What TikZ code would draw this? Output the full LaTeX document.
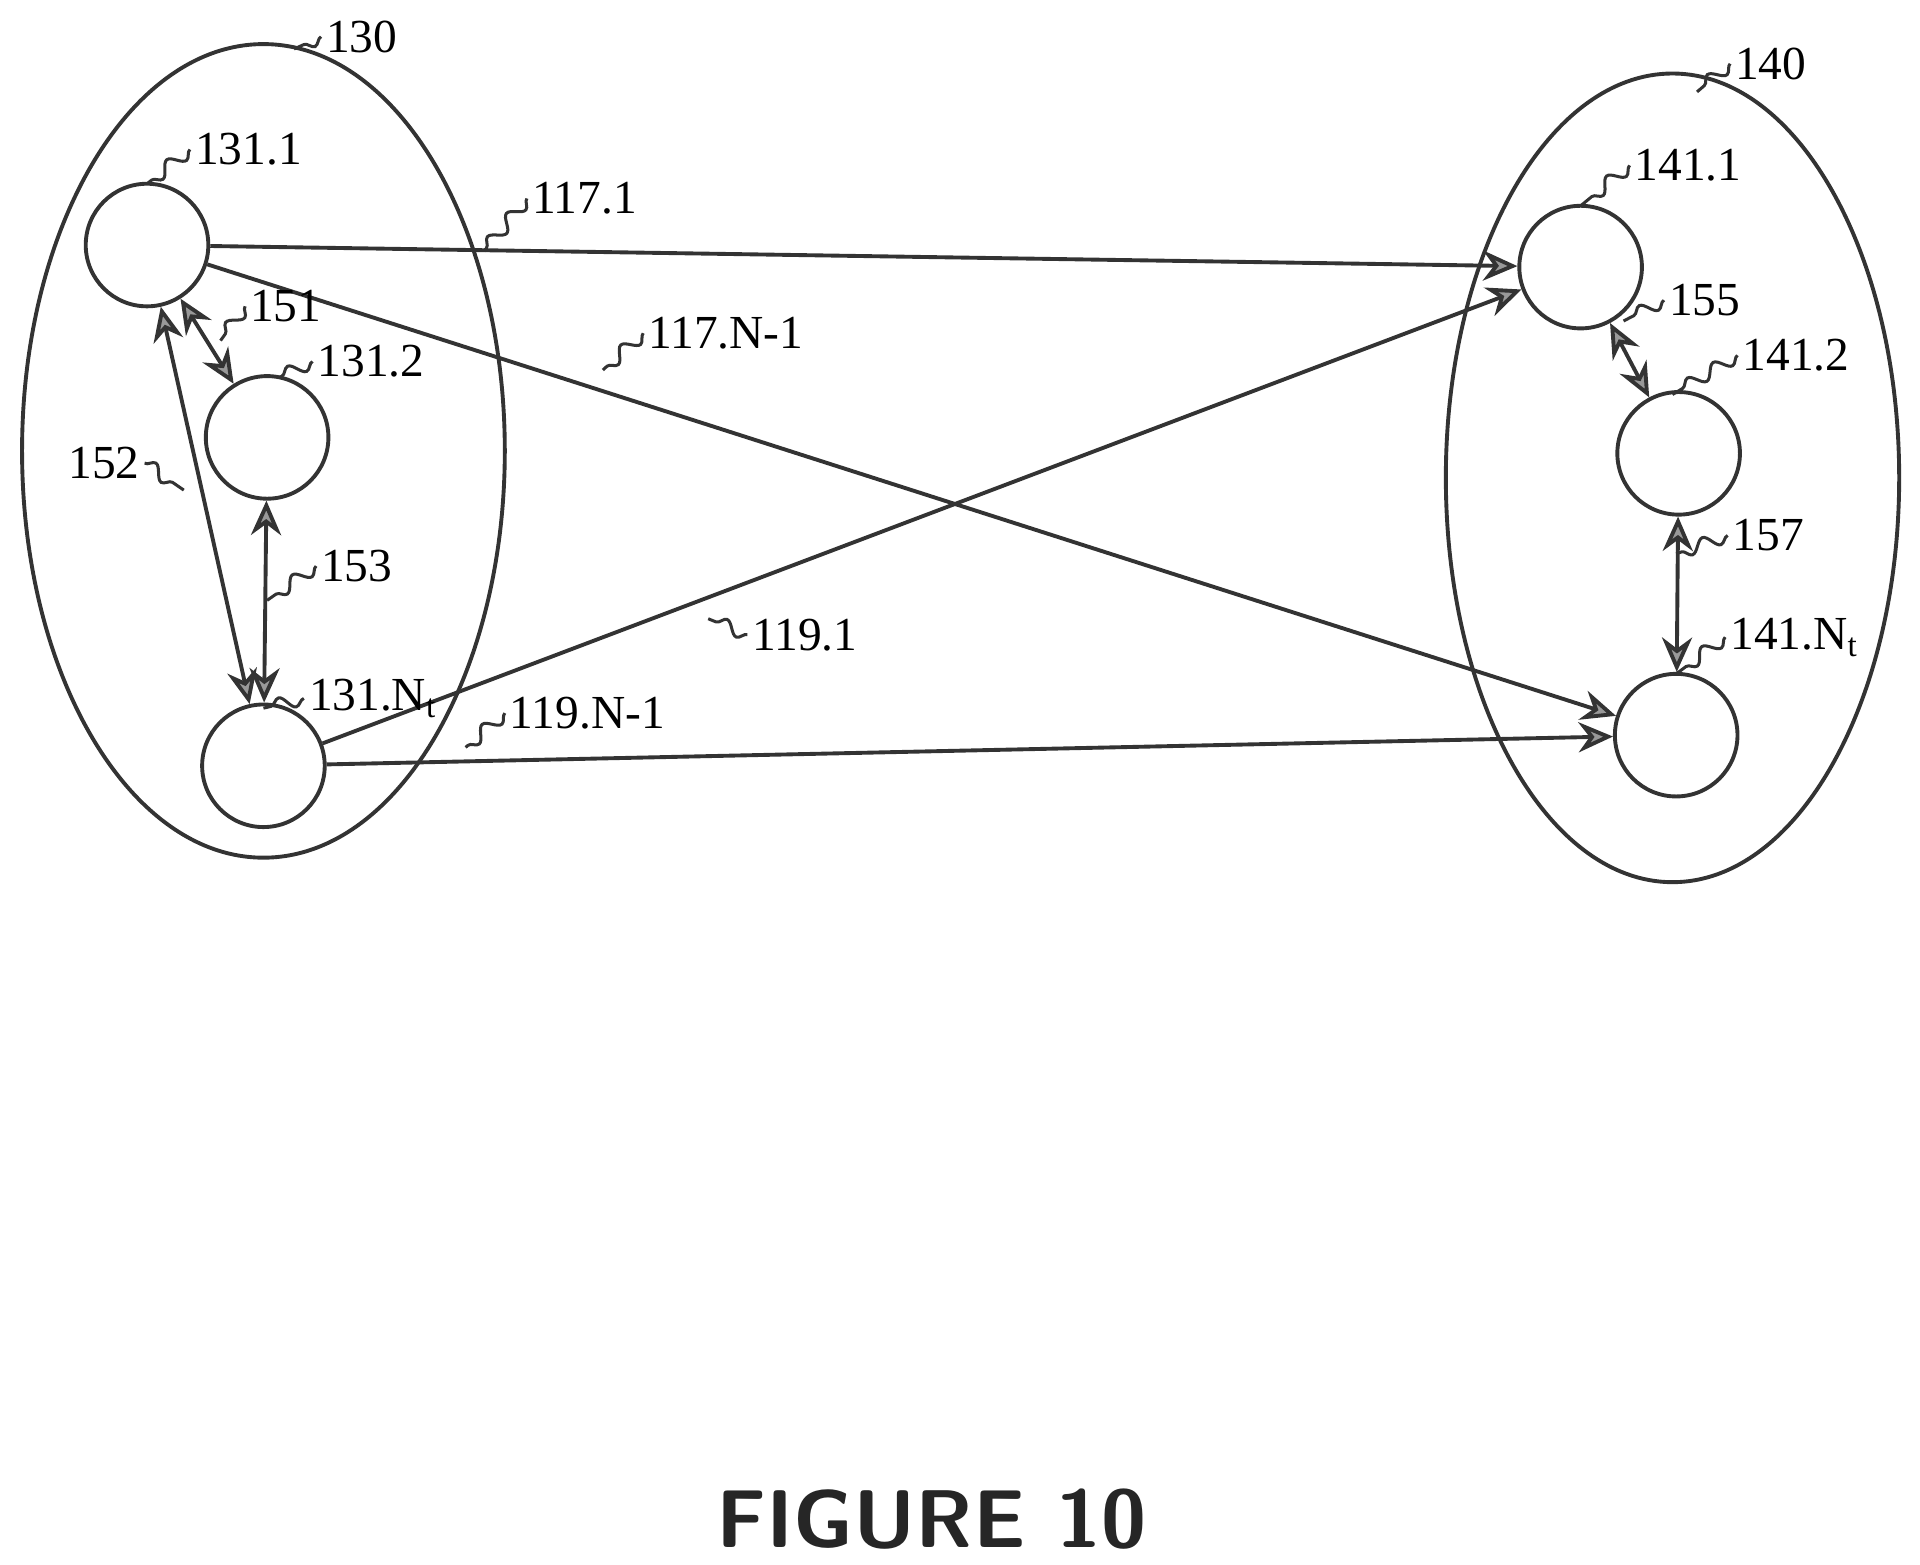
\documentclass[tikz,border=0pt]{standalone}
\usepackage{fontspec}
\setmainfont{Liberation Serif}
\usetikzlibrary{arrows.meta,decorations.pathmorphing}
\begin{document}
\begin{tikzpicture}[x=0.01cm,y=-0.01cm,
 ln/.style={line width=0.9pt,draw=black!80},
 nd/.style={circle,ln,minimum size=1cm,inner sep=0pt},
 ar/.style={ln,-{Stealth[length=8pt,width=7pt,fill=black!40]}},
 bar/.style={ln,{Stealth[length=8pt,width=7pt,fill=black!40]}-{Stealth[length=8pt,width=7pt,fill=black!40]}},
 lb/.style={font=\fontsize{11}{13}\selectfont,inner sep=1pt},
 sq/.style={ln,line width=0.7pt,decorate,decoration={snake,amplitude=1.5pt,segment length=7pt}}]
\useasboundingbox (0,0) rectangle (1567,1277);
\draw[ln] (215,368) ellipse [x radius=197,y radius=332];
\draw[ln] (1365,390) ellipse [x radius=185,y radius=330];
\node[nd] (a1) at (120,200) {};
\node[nd] (a2) at (218,357) {};
\node[nd] (an) at (215,625) {};
\node[nd] (b1) at (1290,218) {};
\node[nd] (b2) at (1370,370) {};
\node[nd] (bn) at (1368,600) {};
\draw[ar] (a1) -- (b1);
\draw[ar] (a1) -- (bn);
\draw[ar] (an) -- (b1);
\draw[ar] (an) -- (bn);
\draw[bar] (a1) -- (a2);
\draw[bar] (a1) -- (an);
\draw[bar] (a2) -- (an);
\draw[bar] (b1) -- (b2);
\draw[bar] (b2) -- (bn);
% labels
\node[lb,anchor=west] (l130) at (262,30) {130};
\node[lb,anchor=west] (l1311) at (155,122) {131.1};
\node[lb,anchor=west] (l1171) at (430,162) {117.1};
\node[lb,anchor=west] (l151) at (200,250) {151};
\node[lb,anchor=west] (l1312) at (255,295) {131.2};
\node[lb,anchor=west] (l117n) at (525,272) {117.N-1};
\node[lb,anchor=east] (l152) at (118,378) {152};
\node[lb,anchor=west] (l153) at (258,462) {153};
\node[lb,anchor=west] (l131n) at (248,570) {131.N$_\mathrm{t}$};
\node[lb,anchor=west] (l1191) at (610,518) {119.1};
\node[lb,anchor=west] (l119n) at (412,582) {119.N-1};
\node[lb,anchor=west] (l140) at (1412,52) {140};
\node[lb,anchor=west] (l1411) at (1330,135) {141.1};
\node[lb,anchor=west] (l155) at (1358,245) {155};
\node[lb,anchor=west] (l1412) at (1418,290) {141.2};
\node[lb,anchor=west] (l157) at (1410,437) {157};
\node[lb,anchor=west] (l141n) at (1408,520) {141.N$_\mathrm{t}$};
\node[font=\fontsize{19}{22}\selectfont\sffamily\bfseries,text=black!85] (fig) at (760,1240) {FIGURE 10};
% leaders
\draw[sq] (l130.west) -- (240,40);
\draw[sq] (l1311.west) -- (120,150);
\draw[sq] (l1171.west) -- (395,205);
\draw[sq] (l151.west) -- (180,278);
\draw[sq] (l1312.west) -- (228,308);
\draw[sq] (l117n.west) -- (492,302);
\draw[sq] (l152.east) -- (150,400);
\draw[sq] (l153.west) -- (218,490);
\draw[sq] (l131n.west) -- (215,578);
\draw[sq] (l1191.west) -- (578,505);
\draw[sq] (l119n.west) -- (380,610);
\draw[sq] (l140.west) -- (1385,75);
\draw[sq] (l1411.west) -- (1290,168);
\draw[sq] (l155.west) -- (1325,262);
\draw[sq] (l1412.west) -- (1365,322);
\draw[sq] (l157.west) -- (1368,452);
\draw[sq] (l141n.west) -- (1368,550);
\end{tikzpicture}
\end{document}
